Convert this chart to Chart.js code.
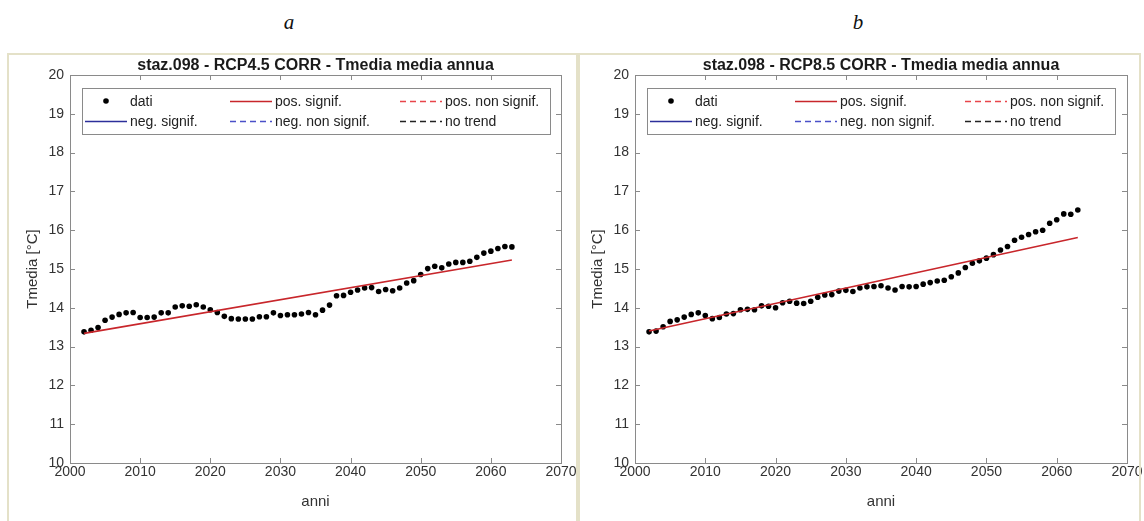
<!DOCTYPE html>
<html>
<head>
<meta charset="utf-8">
<script src="https://cdn.jsdelivr.net/npm/chart.js@4.4.1/dist/chart.umd.min.js"></script>
<style>
  html, body { margin: 0; padding: 0; background: #ffffff; }
  body { width: 1144px; height: 521px; position: relative; overflow: hidden; }
  .tag { position: absolute; top: 10px; width: 40px; text-align: center;
         font: italic 21px "Liberation Serif", "Times New Roman", serif; color: #111; }
  .frame { position: absolute; top: 53px; height: 480px; box-sizing: border-box;
           border: 2px solid #e4e1c8; z-index: 3; pointer-events: none; }
  canvas { position: absolute; z-index: 1; }
</style>
</head>
<body>
<div class="tag" style="left:269px">a</div>
<div class="tag" style="left:838px">b</div>
<canvas id="rcp45" width="578" height="471" style="left:0px;top:50px"></canvas>
<canvas id="rcp85" width="579" height="471" style="left:565px;top:50px"></canvas>
<div class="frame" style="left:7px;width:571px"></div>
<div class="frame" style="left:578px;width:563px"></div>

<script>
// Years of the annual series
const years = [2002, 2003, 2004, 2005, 2006, 2007, 2008, 2009, 2010, 2011,
               2012, 2013, 2014, 2015, 2016, 2017, 2018, 2019, 2020, 2021,
               2022, 2023, 2024, 2025, 2026, 2027, 2028, 2029, 2030, 2031,
               2032, 2033, 2034, 2035, 2036, 2037, 2038, 2039, 2040, 2041,
               2042, 2043, 2044, 2045, 2046, 2047, 2048, 2049, 2050, 2051,
               2052, 2053, 2054, 2055, 2056, 2057, 2058, 2059, 2060, 2061,
               2062, 2063];

// Mean annual temperature [°C], scenario RCP4.5
const tmediaRcp45 = [13.38, 13.42, 13.49, 13.68, 13.76, 13.83, 13.87, 13.88, 13.75, 13.75,
                     13.76, 13.87, 13.87, 14.02, 14.05, 14.04, 14.08, 14.02, 13.95, 13.88,
                     13.78, 13.72, 13.71, 13.71, 13.71, 13.77, 13.77, 13.87, 13.80, 13.82,
                     13.82, 13.84, 13.88, 13.82, 13.94, 14.07, 14.31, 14.32, 14.40, 14.46,
                     14.51, 14.52, 14.42, 14.47, 14.44, 14.51, 14.64, 14.70, 14.86, 15.01,
                     15.07, 15.03, 15.13, 15.17, 15.17, 15.20, 15.30, 15.41, 15.46, 15.53,
                     15.58, 15.57];

// Mean annual temperature [°C], scenario RCP8.5
const tmediaRcp85 = [13.38, 13.40, 13.51, 13.65, 13.69, 13.76, 13.83, 13.87, 13.80, 13.72,
                     13.75, 13.84, 13.85, 13.95, 13.96, 13.95, 14.05, 14.04, 14.00, 14.13,
                     14.17, 14.12, 14.11, 14.17, 14.27, 14.33, 14.34, 14.43, 14.45, 14.42,
                     14.51, 14.54, 14.55, 14.57, 14.51, 14.46, 14.55, 14.54, 14.55, 14.61,
                     14.65, 14.69, 14.71, 14.80, 14.90, 15.04, 15.15, 15.21, 15.28, 15.37,
                     15.49, 15.58, 15.74, 15.82, 15.89, 15.96, 16.00, 16.18, 16.27, 16.42,
                     16.41, 16.52];

// Significant positive trend lines: [start year, end year] and fitted values
const trendYears = [2002, 2063];
const trendRcp45 = [13.34, 15.23];
const trendRcp85 = [13.40, 15.81];

// Axis ranges and tick steps
const xRange = [2000, 2070];
const xStep = 10;
const yRange = [10, 20];
const yStep = 1;

// Legend entries (3 columns x 2 rows)
const legendLabels = ['dati', 'pos. signif.', 'pos. non signif.',
                      'neg. signif.', 'neg. non signif.', 'no trend'];

const FONT = '"Liberation Sans", Arial, Helvetica, sans-serif';
const TEXT = '#333333';

function pairs(xs, ys) {
  return xs.map((x, i) => ({ x: x, y: ys[i] }));
}

// Tick marks pointing inward on all four sides plus the axes box
const boxTicks = {
  id: 'boxTicks',
  afterDraw(chart) {
    const { ctx, chartArea: a, scales } = chart;
    const len = 5;
    ctx.save();
    ctx.strokeStyle = '#8a8a8a';
    ctx.lineWidth = 1;
    ctx.beginPath();
    scales.x.ticks.forEach(t => {
      const px = Math.round(scales.x.getPixelForValue(t.value)) + 0.5;
      ctx.moveTo(px, a.bottom); ctx.lineTo(px, a.bottom - len);
      ctx.moveTo(px, a.top); ctx.lineTo(px, a.top + len);
    });
    scales.y.ticks.forEach(t => {
      const py = Math.round(scales.y.getPixelForValue(t.value)) + 0.5;
      ctx.moveTo(a.left, py); ctx.lineTo(a.left + len, py);
      ctx.moveTo(a.right, py); ctx.lineTo(a.right - len, py);
    });
    ctx.stroke();
    ctx.strokeRect(Math.round(a.left) + 0.5, Math.round(a.top) + 0.5,
                   Math.round(a.right - a.left), Math.round(a.bottom - a.top));
    ctx.restore();
  }
};

// Boxed legend in the upper part of the axes, drawn from the datasets' own styles
const boxLegend = {
  id: 'boxLegend',
  afterDraw(chart) {
    const { ctx, chartArea: a } = chart;
    const L = a.left, T = a.top;
    const cols = [{ line: 15, text: 60 }, { line: 160, text: 205 }, { line: 330, text: 375 }];
    const rows = [26, 46];
    const lineLen = 42;
    ctx.save();
    ctx.fillStyle = '#ffffff';
    ctx.fillRect(L + 12, T + 13, 468, 46);
    ctx.strokeStyle = '#8a8a8a';
    ctx.lineWidth = 1;
    ctx.strokeRect(Math.round(L + 12) + 0.5, Math.round(T + 13) + 0.5, 468, 46);
    ctx.font = '14px ' + FONT;
    ctx.textBaseline = 'middle';
    ctx.textAlign = 'left';
    chart.data.datasets.forEach((ds, i) => {
      const c = cols[i % 3], y = T + rows[Math.floor(i / 3)];
      const x0 = L + c.line;
      if (ds.showLine === false) {
        ctx.fillStyle = ds.pointBackgroundColor;
        ctx.beginPath();
        ctx.arc(x0 + lineLen / 2, y, ds.pointRadius, 0, Math.PI * 2);
        ctx.fill();
      } else {
        ctx.strokeStyle = ds.borderColor;
        ctx.lineWidth = ds.borderWidth;
        ctx.setLineDash(ds.borderDash || []);
        ctx.beginPath();
        ctx.moveTo(x0, y + 0.5); ctx.lineTo(x0 + lineLen, y + 0.5);
        ctx.stroke();
        ctx.setLineDash([]);
      }
      ctx.fillStyle = '#222222';
      ctx.fillText(ds.label, L + c.text, y + 1);
    });
    ctx.restore();
  }
};

function makeChart(id, title, values, trend) {
  const datasets = [
    { label: legendLabels[0], data: pairs(years, values), showLine: false,
      pointRadius: 2.8, pointBackgroundColor: '#000000', pointBorderWidth: 0,
      borderColor: '#000000', order: 2 },
    { label: legendLabels[1], data: pairs(trendYears, trend), borderColor: '#c8262b',
      borderWidth: 1.6, pointRadius: 0, order: 1 },
    { label: legendLabels[2], data: [], borderColor: '#e8454a', borderWidth: 1.4,
      borderDash: [6, 4], pointRadius: 0 },
    { label: legendLabels[3], data: [], borderColor: '#2c2f9a', borderWidth: 1.6,
      pointRadius: 0 },
    { label: legendLabels[4], data: [], borderColor: '#4a50c8', borderWidth: 1.4,
      borderDash: [6, 4], pointRadius: 0 },
    { label: legendLabels[5], data: [], borderColor: '#222222', borderWidth: 1.4,
      borderDash: [6, 4], pointRadius: 0 }
  ];

  return new Chart(document.getElementById(id), {
    type: 'line',
    data: { datasets: datasets },
    options: {
      responsive: false,
      animation: false,
      layout: { padding: { left: 0, right: 17, top: 0, bottom: 0 } },
      plugins: {
        legend: { display: false },
        tooltip: { enabled: false },
        title: {
          display: true, text: title, fullSize: false, color: '#1a1a1a',
          font: { family: FONT, size: 16, weight: 'bold', lineHeight: 1 },
          padding: { top: 8, bottom: 1 }
        }
      },
      scales: {
        x: {
          type: 'linear', min: xRange[0], max: xRange[1],
          grid: { display: false, drawTicks: false },
          border: { display: false },
          ticks: { stepSize: xStep, color: TEXT, padding: 1, maxRotation: 0,
                   font: { family: FONT, size: 14 }, callback: v => String(v) },
          title: { display: true, text: 'anni', color: TEXT,
                   font: { family: FONT, size: 15 }, padding: { top: 0, bottom: 10 } },
          afterFit: s => { s.height = 58; }
        },
        y: {
          min: yRange[0], max: yRange[1],
          grid: { display: false, drawTicks: false },
          border: { display: false },
          ticks: { stepSize: yStep, color: TEXT, padding: 6,
                   font: { family: FONT, size: 14 } },
          title: { display: true, text: 'Tmedia [°C]', color: TEXT,
                   font: { family: FONT, size: 15 }, padding: { top: 24, bottom: 0 } },
          afterFit: s => { s.width = 70; }
        }
      }
    },
    plugins: [boxTicks, boxLegend]
  });
}

makeChart('rcp45', 'staz.098 - RCP4.5 CORR - Tmedia media annua', tmediaRcp45, trendRcp45);
makeChart('rcp85', 'staz.098 - RCP8.5 CORR - Tmedia media annua', tmediaRcp85, trendRcp85);
</script>
</body>
</html>
